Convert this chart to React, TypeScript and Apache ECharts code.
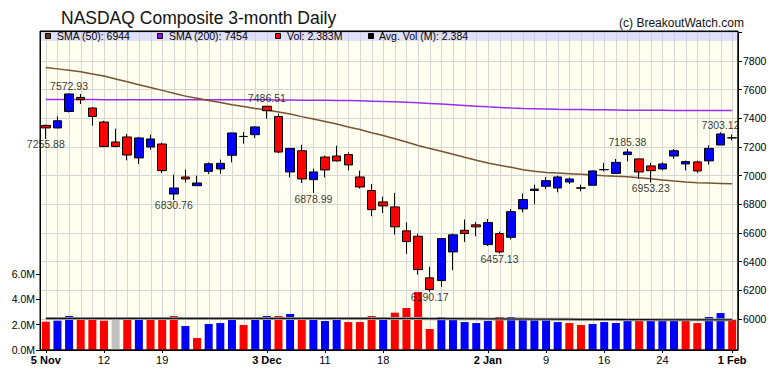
import React, { useEffect, useRef } from 'react';
import * as echarts from 'echarts';

const dates = [
  '2018-11-05','2018-11-06','2018-11-07','2018-11-08','2018-11-09','2018-11-12','2018-11-13','2018-11-14','2018-11-15','2018-11-16',
  '2018-11-19','2018-11-20','2018-11-21','2018-11-23','2018-11-26','2018-11-27','2018-11-28','2018-11-29','2018-11-30',
  '2018-12-03','2018-12-04','2018-12-06','2018-12-07','2018-12-10','2018-12-11','2018-12-12','2018-12-13','2018-12-14',
  '2018-12-17','2018-12-18','2018-12-19','2018-12-20','2018-12-21','2018-12-24','2018-12-26','2018-12-27','2018-12-28','2018-12-31',
  '2019-01-02','2019-01-03','2019-01-04','2019-01-07','2019-01-08','2019-01-09','2019-01-10','2019-01-11','2019-01-14','2019-01-15',
  '2019-01-16','2019-01-17','2019-01-18','2019-01-22','2019-01-23','2019-01-24','2019-01-25','2019-01-28','2019-01-29','2019-01-30',
  '2019-01-31','2019-02-01'
];

const opens = [7351,7333,7448,7546,7472,7374,7235,7270,7124,7200,7221,6872,6991,6930,7030,7047,7142,7274,7286,7484,7413,7026,7174,6972,7130,7137,7147,6991,6896,6817,6782,6615,6577,6287,6268,6468,6619,6657,6519,6596,6570,6768,6897,6926,6914,6956,6915,6933,7041,7016,7147,7117,7068,7047,7137,7082,7096,7103,7214,7265];
const closes = [7333,7383,7570,7530,7413,7204,7204,7144,7263,7256,7035,6914,6977,6949,7083,7086,7298,7273,7340,7453,7165,7190,6977,7026,7040,7103,7075,6921,6763,6789,6643,6540,6345,6206,6561,6587,6596,6643,6673,6468,6749,6833,6906,6965,6991,6977,6913,7033,7043,7093,7165,7026,7035,7082,7174,7098,7033,7190,7291,7263];
const lows = [7255.88,7330,7441,7500,7349,7199,7199,7107,7082,7181,7019,6830.76,6953,6930,7012,7013,7093,7223,7263,7397,7158,6988,6949,6878.99,6988,7098,7037,6910,6717,6740,6589,6454,6310,6190.17,6224,6340,6538,6577,6510,6457.13,6554,6744,6800,6907,6884,6942,6891,6933,7030,7012,7100,6977,6953.23,7037,7117,7037,7019,7077,7214,7246];
const highs = [7356,7413,7572.93,7570,7478,7383,7328,7291,7270,7286,7230,7007,7042,7000,7092,7112,7300,7305,7345,7486.51,7432,7192,7216,7049,7140,7209,7163,7035,6942,6854,6880,6675,6596,6364,6563,6596,6694,6677,6698,6610,6768,6875,6937,6991,7000,6986,6937,7037,7089,7116,7185.38,7117,7089,7093,7186,7105,7105,7211,7303.12,7288];

const volumes = [2.24,2.32,2.69,2.53,2.48,2.32,2.37,2.61,2.53,2.48,2.37,2.69,1.90,0.95,2.06,2.13,2.48,1.98,2.61,2.69,2.69,2.85,2.53,2.37,2.29,2.48,2.21,2.21,2.69,2.61,2.95,3.32,4.58,1.66,2.61,2.45,2.21,2.13,2.29,2.61,2.61,2.53,2.45,2.45,2.21,2.13,1.98,2.06,2.21,2.13,2.45,2.45,2.29,2.45,2.45,2.45,2.13,2.61,2.92,2.383];
const avgVol = [2.50,2.50,2.50,2.50,2.50,2.50,2.50,2.50,2.50,2.50,2.50,2.50,2.50,2.50,2.50,2.50,2.50,2.50,2.50,2.50,2.50,2.50,2.50,2.50,2.50,2.50,2.50,2.50,2.50,2.50,2.49,2.49,2.49,2.48,2.48,2.48,2.47,2.47,2.46,2.46,2.45,2.45,2.44,2.44,2.43,2.43,2.42,2.42,2.41,2.41,2.40,2.40,2.40,2.39,2.39,2.39,2.39,2.385,2.384,2.384];

const sma50 = [7755,7745,7735,7725,7710,7695,7675,7655,7635,7615,7595,7575,7555,7540,7525,7510,7495,7482,7468,7458,7444,7430,7412,7395,7378,7360,7340,7322,7300,7280,7258,7235,7210,7190,7170,7150,7128,7108,7088,7072,7058,7042,7030,7022,7018,7014,7010,7005,7000,6996,6992,6986,6978,6970,6962,6955,6950,6948,6946,6944];
const sma200 = [7532,7532,7531,7531,7531,7530,7530,7530,7530,7530,7530,7530,7530,7530,7530,7530,7530,7529,7529,7529,7528,7528,7527,7527,7526,7525,7524,7522,7520,7518,7515,7512,7508,7504,7500,7495,7490,7485,7480,7476,7472,7469,7467,7465,7463,7462,7461,7460,7459,7458,7457,7457,7456,7456,7455,7455,7455,7454,7454,7454];

const tickIdx = [0, 5, 10, 19, 24, 29, 38, 43, 48, 53, 59];
const tickText = ['5 Nov', '12', '19', '3 Dec', '11', '18', '2 Jan', '9', '16', '24', '1 Feb'];
const tickBold = [true, false, false, true, false, false, true, false, false, false, true];

const highMarks: [number, number][] = [[2, 7572.93], [19, 7486.51], [50, 7185.38], [58, 7303.12]];
const lowMarks: [number, number][] = [[0, 7255.88], [11, 6830.76], [23, 6878.99], [33, 6190.17], [39, 6457.13], [52, 6953.23]];

const FONT = '"Liberation Sans", Arial, sans-serif';

export default function App() {
  const ref = useRef<HTMLDivElement>(null);
  useEffect(() => {
    if (!ref.current) return;
    const chart = echarts.init(ref.current, undefined, { renderer: 'svg' });
    const L = 40, R = 42;
    const volColors = closes.map((c, i) => {
      if (i === 0) return '#ff0000';
      if (c > closes[i - 1]) return '#0000ff';
      if (c < closes[i - 1]) return '#ff0000';
      return '#c0c0c0';
    });
    const catAxis = (gi: number, show: boolean) => ({
      type: 'category',
      gridIndex: gi,
      data: dates,
      boundaryGap: true,
      show,
    });
    const legendItems = [
      { x: 45, tx: 57, color: '#663300', text: `SMA (50): ${sma50[sma50.length - 1]}` },
      { x: 157, tx: 169, color: '#9900ff', text: `SMA (200): ${sma200[sma200.length - 1]}` },
      { x: 275, tx: 287, color: '#ff0000', text: `Vol: ${volumes[volumes.length - 1].toFixed(3)}M` },
      { x: 368, tx: 379, color: '#000000', text: `Avg. Vol (M): ${avgVol[avgVol.length - 1].toFixed(3)}` },
    ];
    const option: any = {
      animation: false,
      backgroundColor: '#ffffff',
      textStyle: { fontFamily: FONT },
      grid: [
        { left: L, right: R, top: 31, bottom: 26, show: true, backgroundColor: '#fffff0', borderColor: '#000', borderWidth: 1 },
        { left: L, right: R, top: 274.1, bottom: 26 },
        { left: L, right: R, top: 32.33, bottom: 57 },
      ],
      xAxis: [
        {
          ...catAxis(0, true),
          axisLine: { show: true, lineStyle: { color: '#000', width: 1 } },
          axisTick: {
            show: true, length: 3, alignWithLabel: true,
            interval: (index: number) => tickIdx.includes(index),
            lineStyle: { color: '#000' },
          },
          axisLabel: {
            interval: 0,
            margin: 4,
            color: '#000',
            fontFamily: FONT,
            formatter: (_v: string, index: number) => {
              const k = tickIdx.indexOf(index);
              if (k < 0) return '';
              return tickBold[k] ? `{b|${tickText[k]}}` : `{n|${tickText[k]}}`;
            },
            rich: {
              b: { fontWeight: 'bold', fontSize: 11, fontFamily: FONT, color: '#000' },
              n: { fontSize: 11, fontFamily: FONT, color: '#000' },
            },
          },
          splitLine: { show: false },
        },
        catAxis(1, false),
        catAxis(2, false),
      ],
      yAxis: [
        { type: 'value', gridIndex: 0, min: 0, max: 1, show: false },
        {
          type: 'value', gridIndex: 1, min: 0, max: 6, interval: 2, position: 'left',
          axisLine: { show: true, lineStyle: { color: '#000' } },
          axisTick: { show: true, length: 4, lineStyle: { color: '#000' } },
          splitLine: { show: false },
          axisLabel: {
            margin: 5, color: '#000', fontSize: 10.5, fontFamily: FONT,
            formatter: (v: number) => v.toFixed(1) + 'M',
          },
        },
        {
          type: 'value', gridIndex: 2, min: 6000, max: 8000, interval: 200, position: 'right',
          axisLine: { show: true, lineStyle: { color: '#000' } },
          axisTick: { show: true, length: 4, lineStyle: { color: '#000' } },
          splitLine: { show: true, lineStyle: { color: '#d6d6d6', width: 1 } },
          axisLabel: {
            margin: 5, color: '#000', fontSize: 10.5, fontFamily: FONT,
            formatter: (v: number) => (v >= 8000 ? '' : String(v)),
          },
        },
      ],
      series: [
        {
          type: 'custom',
          xAxisIndex: 0, yAxisIndex: 0,
          silent: true,
          z: 1,
          data: dates.map((_d, i) => [i]),
          renderItem: (params: any, api: any) => {
            const x = Math.round(api.coord([api.value(0), 0])[0]) + 0.5;
            const cs = params.coordSys;
            return {
              type: 'line',
              shape: { x1: x, y1: cs.y, x2: x, y2: cs.y + cs.height },
              style: { stroke: '#d6d6d6', lineWidth: 1 },
            };
          },
        },
        {
          type: 'bar',
          xAxisIndex: 1, yAxisIndex: 1,
          barWidth: 8,
          data: volumes.map((v, i) => ({ value: v, itemStyle: { color: volColors[i] } })),
        },
        {
          type: 'line', xAxisIndex: 1, yAxisIndex: 1, data: avgVol, symbol: 'none',
          lineStyle: { color: '#999999', width: 3 }, z: 3,
        },
        {
          type: 'line', xAxisIndex: 1, yAxisIndex: 1, data: avgVol, symbol: 'none',
          lineStyle: { color: '#000000', width: 1 }, z: 3,
        },
        {
          type: 'line', xAxisIndex: 2, yAxisIndex: 2, data: sma200, symbol: 'none',
          lineStyle: { color: '#9a2cf5', width: 1.5 }, z: 3,
        },
        {
          type: 'line', xAxisIndex: 2, yAxisIndex: 2, data: sma50, symbol: 'none',
          lineStyle: { color: '#7a5230', width: 1.5 }, z: 3,
        },
        {
          type: 'candlestick',
          xAxisIndex: 2, yAxisIndex: 2,
          barWidth: 9,
          z: 4,
          data: opens.map((o, i) => [o, closes[i], lows[i], highs[i]]),
          itemStyle: {
            color: '#0000ff', color0: '#ff0000',
            borderColor: '#000000', borderColor0: '#000000', borderWidth: 1,
          },
        },
        {
          type: 'scatter', xAxisIndex: 2, yAxisIndex: 2, symbolSize: 0, z: 6, silent: true,
          data: highMarks.map(([i, v]) => [i, v]),
          itemStyle: { color: 'transparent' },
          label: {
            show: true, position: 'top', distance: 2, color: '#000', fontSize: 10.5, fontFamily: FONT,
            formatter: (p: any) => p.value[1].toFixed(2),
          },
        },
        {
          type: 'scatter', xAxisIndex: 2, yAxisIndex: 2, symbolSize: 0, z: 6, silent: true,
          data: lowMarks.map(([i, v]) => [i, v]),
          itemStyle: { color: 'transparent' },
          label: {
            show: true, position: 'bottom', distance: 0, color: '#000', fontSize: 10.5, fontFamily: FONT,
            formatter: (p: any) => p.value[1].toFixed(2),
          },
        },
      ],
      graphic: [
        {
          type: 'text', x: 61, y: 18, z: 100,
          style: { text: 'NASDAQ Composite 3-month Daily', font: `17.5px ${FONT}`, fill: '#111', verticalAlign: 'middle', align: 'left' },
        },
        {
          type: 'text', x: 744, y: 23, z: 100,
          style: { text: '(c) BreakoutWatch.com', font: `12px ${FONT}`, fill: '#111', verticalAlign: 'middle', align: 'right' },
        },
        {
          type: 'rect', z: 100, silent: true,
          shape: { x: 40.5, y: 31.5, width: 697, height: 9.5 },
          style: { fill: 'rgba(193,193,255,0.5)' },
        },
        {
          type: 'rect', z: 102, silent: true,
          shape: { x: 40.5, y: 31.5, width: 697.5, height: 318.5 },
          style: { fill: 'none', stroke: '#000', lineWidth: 1 },
        },
        ...legendItems.flatMap((it) => [
          {
            type: 'rect', z: 101,
            shape: { x: it.x + 0.5, y: 33.5, width: 5, height: 5 },
            style: { fill: it.color, stroke: '#000', lineWidth: 1 },
          },
          {
            type: 'text', x: it.tx, y: 36.3, z: 101,
            style: { text: it.text, font: `10.5px ${FONT}`, fill: '#000', verticalAlign: 'middle', align: 'left' },
          },
        ]),
      ],
    };
    chart.setOption(option);
    return () => chart.dispose();
  }, []);
  return <div ref={ref} style={{ position: 'fixed', left: 0, top: 0, width: 780, height: 376 }} />;
}
